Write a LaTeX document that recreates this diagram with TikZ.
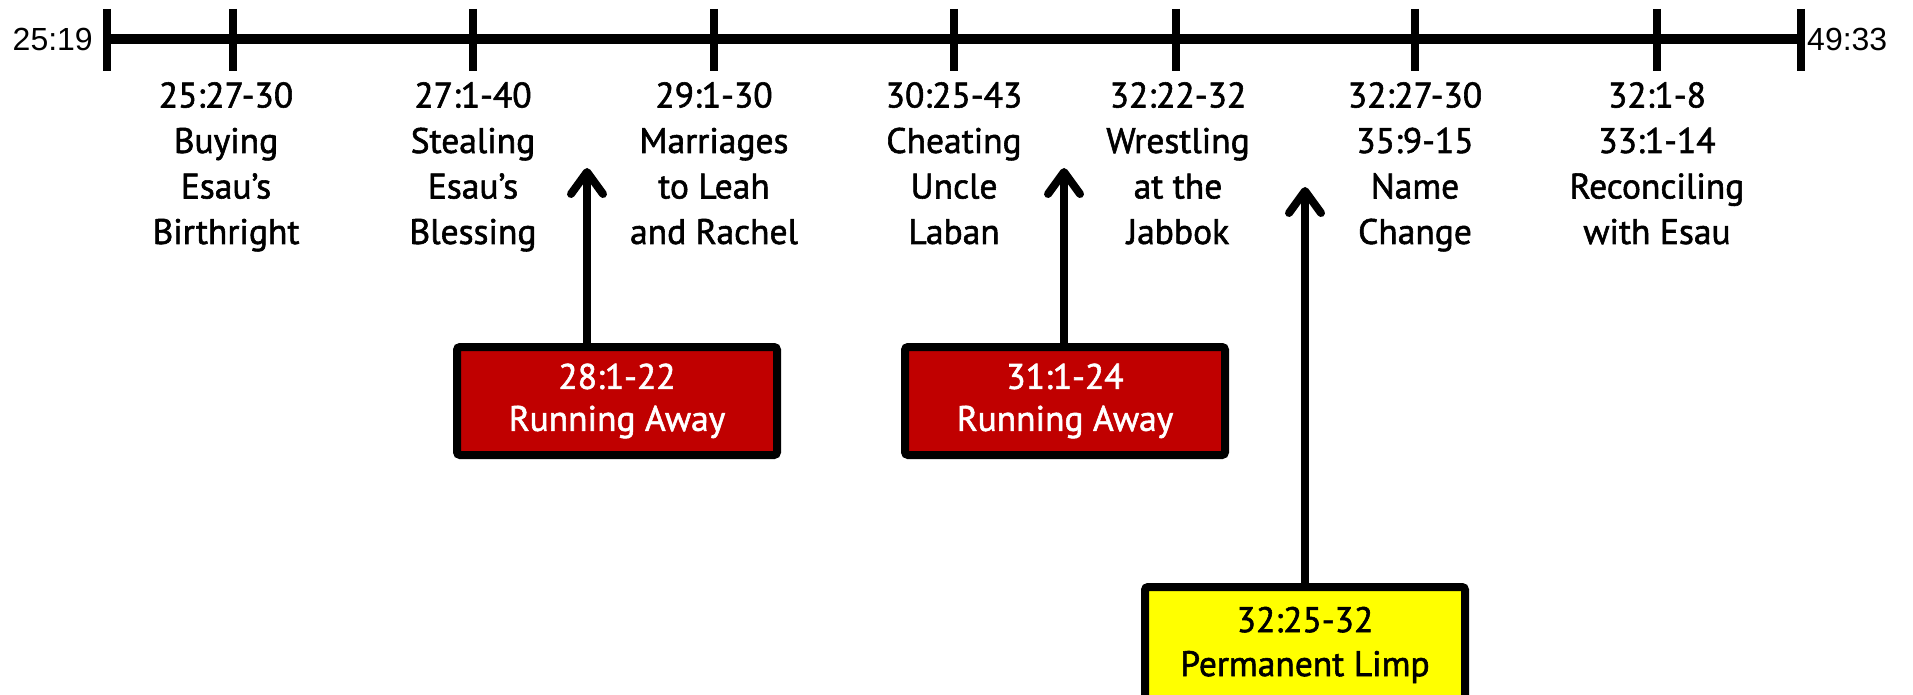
\documentclass[tikz,border=0pt]{standalone}
\usepackage{fontspec}
\setmainfont{PT Sans}
\newfontfamily\lblfont[FakeBold=1.6]{PT Sans}
\newfontfamily\endfont{Liberation Sans}
\usetikzlibrary{arrows.meta}
\definecolor{boxred}{HTML}{C00000}
\definecolor{boxyellow}{HTML}{FFFF00}
\tikzset{
  axis/.style={line width=10pt},
  tickmark/.style={line width=8pt},
  endlbl/.style={inner sep=0pt, font=\endfont\fontsize{32}{38}\selectfont},
  lbl/.style={inner sep=0pt, anchor=north, align=center, font=\lblfont\fontsize{35.5}{45.5}\selectfont},
  evbox/.style={draw=black, line width=8pt, rounded corners=3pt, minimum width=320pt, minimum height=108pt, align=center, inner sep=0pt, font=\lblfont\fontsize{35.5}{47}\selectfont},
  upar/.style={line width=8pt, -{Straight Barb[length=22pt,width=32pt,line cap=round,line join=round]}}
}
\begin{document}
\begin{tikzpicture}[x=1pt,y=-1pt]
\useasboundingbox (0,0) rectangle (1913,695);
% timeline ticks
\coordinate (t0) at (107,39);
\coordinate (t1) at (233,39);
\coordinate (t2) at (473,39);
\coordinate (t3) at (714,39);
\coordinate (t4) at (954,39);
\coordinate (t5) at (1176,39);
\coordinate (t6) at (1415,39);
\coordinate (t7) at (1657,39);
\coordinate (t8) at (1801,39);
\draw[axis] (t0) -- (t8);
\foreach \t in {t0,t1,t2,t3,t4,t5,t6,t7,t8}
  \draw[tickmark] (\t) ++(0,-30) -- ++(0,62);
\node[endlbl, anchor=east] (start) at (93,39) {25:19};
\node[endlbl, anchor=west] (end) at (1807,39) {49:33};
% labels
\node[lbl] (l1) at (226,82) {25:27-30\\Buying\\Esau’s\\Birthright};
\node[lbl] (l2) at (473,82) {27:1-40\\Stealing\\Esau’s\\Blessing};
\node[lbl] (l3) at (714,82) {29:1-30\\Marriages\\to Leah\\and Rachel};
\node[lbl] (l4) at (954,82) {30:25-43\\Cheating\\Uncle\\Laban};
\node[lbl] (l5) at (1178,82) {32:22-32\\Wrestling\\at the\\Jabbok};
\node[lbl] (l6) at (1415,82) {32:27-30\\35:9-15\\Name\\Change};
\node[lbl] (l7) at (1657,82) {32:1-8\\33:1-14\\Reconciling\\with Esau};
% boxes
\node[evbox, fill=boxred, text=white] (b1) at (617,401) {\raisebox{-5pt}{28:1-22}\\Running Away};
\node[evbox, fill=boxred, text=white] (b2) at (1065,401) {\raisebox{-5pt}{31:1-24}\\Running Away};
\node[evbox, fill=boxyellow, text=black, minimum height=116pt] (b3) at (1305,645) {\raisebox{-3pt}{32:25-32}\\Permanent Limp};
% arrows
\coordinate (a1) at (587,168);
\coordinate (a2) at (1064,168);
\coordinate (a3) at (1305,187);
\draw[upar] (b1.north -| a1) -- (a1);
\draw[upar] (b2.north -| a2) -- (a2);
\draw[upar] (b3.north -| a3) -- (a3);
\end{tikzpicture}
\end{document}
